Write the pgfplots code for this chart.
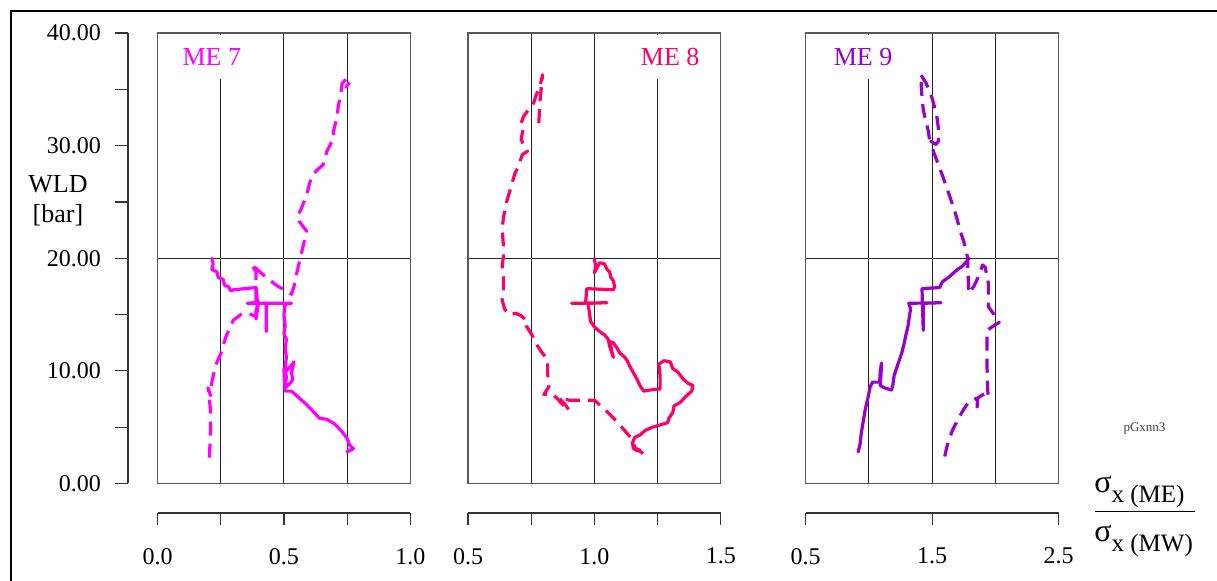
\documentclass[border=0pt]{standalone}
\usepackage{fontspec}
\setmainfont{Liberation Serif}
\usepackage{pgfplots}
\pgfplotsset{compat=1.18}
\definecolor{cA}{RGB}{255,0,255}
\definecolor{cB}{RGB}{255,0,102}
\definecolor{cC}{RGB}{153,0,204}
\pgfplotsset{
 panel/.style={scale only axis, width=126.4pt, height=225.25pt, ymin=0, ymax=40,
   ytick={20}, yticklabels={}, xticklabels={}, tick style={draw=none},
   grid=major, grid style={black!85,line width=0.5pt},
   axis line style={black!65,line width=0.6pt}, anchor=south west, clip=true},
 xax/.style={scale only axis, width=126.4pt, height=5pt, ymin=0, ymax=1,
   axis y line=none, axis x line=bottom, x axis line style={-},
   axis line style={black!80,line width=0.6pt}, tick align=outside,
   major tick length=6pt, tick style={black!80,line width=0.6pt}, anchor=south west,
   xticklabel style={font=\fontsize{12}{12}\selectfont, yshift=-8pt}},
 sl/.style={line width=1.6pt, line join=round, line cap=round},
 dl/.style={line width=1.6pt, dash pattern=on 7pt off 4pt, line join=round},
}
\begin{document}
\begin{tikzpicture}
\useasboundingbox (0pt,0pt) rectangle (608.5pt,-290.5pt);
\draw[line width=1.3pt] (5.5pt,-300pt) -- (5.5pt,-5.5pt) -- (620pt,-5.5pt);

% y axis
\begin{axis}[scale only axis, width=5pt, height=225.25pt, at={(64pt,-241.75pt)}, anchor=south west,
  xmin=0, xmax=1, ymin=0, ymax=40, axis x line=none, axis y line=left, y axis line style={-},
  axis line style={black!80,line width=0.6pt}, tick align=outside,
  major tick length=6.5pt, minor tick length=6.5pt, tick style={black!80,line width=0.6pt},
  ytick={0,10,20,30,40}, minor ytick={5,15,25,35},
  yticklabels={0.00,10.00,20.00,30.00,40.00},
  yticklabel style={font=\fontsize{12}{12}\selectfont, xshift=-3.5pt}]
\addplot[draw=none] coordinates {(0,0)};
\end{axis}

% panel ME 7
\begin{axis}[panel, at={(78.75pt,-241.75pt)}, xmin=0, xmax=1, xtick={0.25,0.5,0.75}]
\addplot[cA, dl] coordinates {
(0.205,2.3)(0.21,4.5)(0.21,6.5)(0.205,7.5)(0.2,8.5)(0.21,7.8)(0.215,9.0)(0.23,10.5)(0.25,11.5)
(0.27,13.0)(0.29,14.0)(0.30,14.5)(0.33,15.0)(0.36,15.1)(0.39,14.8)(0.39,16.5)(0.39,18.8)(0.37,19.5)
(0.42,18.5)(0.47,17.6)(0.53,16.8)(0.54,17.5)(0.55,18.6)(0.57,20.5)(0.59,22.4)(0.58,22.7)(0.56,23.3)
(0.555,23.9)(0.565,24.2)(0.59,25.6)(0.60,26.5)(0.61,27.3)(0.63,27.8)(0.655,28.3)(0.67,29.5)(0.70,30.8)
(0.695,31.2)(0.71,32.5)(0.715,33.5)(0.725,34.5)(0.73,35.5)(0.745,35.9)(0.745,35.2)(0.76,35.6)};
\addplot[cA, sl] coordinates {
(0.215,20.0)(0.22,19.5)(0.215,19.0)(0.235,18.8)(0.24,18.3)(0.26,18.1)(0.265,17.6)(0.28,17.5)
(0.29,17.1)(0.30,17.2)(0.39,17.4)(0.395,16.2)(0.39,14.6)(0.40,16.1)(0.355,16.0)(0.43,16.0)(0.43,13.5)
(0.43,16.0)(0.53,16.0)(0.505,15.9)(0.50,15.0)(0.505,14.0)(0.50,13.3)(0.51,12.8)(0.505,12.0)(0.51,11.2)
(0.505,10.5)(0.51,10.0)(0.53,10.5)(0.54,10.8)(0.53,9.8)(0.535,9.2)(0.52,8.8)(0.505,8.5)(0.51,9.5)
(0.50,10.2)(0.505,8.2)(0.53,8.2)(0.56,7.6)(0.59,7.0)(0.62,6.3)(0.64,5.8)(0.67,5.7)(0.70,5.3)
(0.73,4.6)(0.75,4.0)(0.76,3.4)(0.775,3.1)(0.75,2.8)(0.76,3.0)};
\node[fill=white, text=cA, font=\fontsize{13}{14}\selectfont, anchor=north, minimum height=22pt, inner xsep=3pt]
  at (rel axis cs:0.215,0.997) {ME 7};
\end{axis}
\begin{axis}[xax, at={(78.75pt,-256.5pt)}, xmin=0, xmax=1, xtick={0,0.25,0.5,0.75,1},
  xticklabels={0.0,,0.5,,1.0}]
\addplot[draw=none] coordinates {(0,0)};
\end{axis}

% panel ME 8
\begin{axis}[panel, at={(234pt,-241.75pt)}, xmin=0.5, xmax=1.5, xtick={0.75,1,1.25}]
\addplot[cB, dl] coordinates {
(0.78,32.0)(0.785,34.0)(0.795,36.3)(0.785,35.3)(0.77,34.5)(0.76,33.8)(0.74,33.2)(0.72,32.6)(0.71,32.0)
(0.72,31.6)(0.71,30.6)(0.72,30.0)(0.735,29.5)(0.715,29.2)(0.70,28.2)(0.685,27.5)(0.67,26.3)(0.655,25.2)
(0.64,23.6)(0.635,22.5)(0.64,21.2)(0.64,20.2)(0.635,19.2)(0.64,18.3)(0.64,17.2)(0.635,16.3)(0.645,15.5)
(0.66,15.0)(0.69,15.1)(0.71,14.9)(0.735,14.4)(0.73,14.0)(0.75,13.3)(0.77,12.4)(0.79,11.7)(0.815,11.0)
(0.815,9.8)(0.82,8.6)(0.80,7.9)(0.83,8.0)(0.855,7.5)(0.87,7.1)(0.90,6.5)(0.885,7.0)(0.86,7.6)(0.9,7.4)
(0.96,7.4)(1.0,7.4)(1.04,6.6)(1.08,5.7)(1.12,4.7)(1.15,3.9)(1.16,3.2)(1.19,2.7)(1.2,2.4)};
\addplot[cB, sl] coordinates {
(1.0,19.9)(1.005,19.3)(1.0,18.7)(1.02,19.6)(1.04,19.5)(1.05,19.0)(1.06,18.8)(1.065,18.3)(1.075,18.0)
(1.08,17.5)(1.075,17.2)(0.97,17.3)(0.965,16.0)(0.91,16.0)(1.05,16.05)(0.975,16.0)(0.98,15.2)(0.985,14.4)
(1.0,13.9)(1.02,13.5)(1.04,13.2)(1.055,12.8)(1.06,12.2)(1.075,11.2)(1.06,12.6)(1.075,12.5)(1.09,12.0)
(1.1,11.6)(1.12,11.2)(1.13,10.9)(1.14,10.4)(1.155,9.8)(1.17,9.2)(1.18,8.7)(1.195,8.2)(1.22,8.3)
(1.26,8.4)(1.26,9.5)(1.255,10.6)(1.275,10.9)(1.3,10.8)(1.31,10.2)(1.33,9.9)(1.35,9.3)(1.37,8.9)
(1.39,8.7)(1.385,8.2)(1.36,7.7)(1.34,7.2)(1.315,6.9)(1.31,6.3)(1.295,5.8)(1.29,5.4)(1.26,5.2)
(1.23,5.0)(1.2,4.7)(1.18,4.3)(1.16,4.1)(1.15,3.6)(1.155,3.1)(1.17,2.9)(1.18,3.0)};
\node[fill=white, text=cB, font=\fontsize{13}{14}\selectfont, anchor=north, minimum height=22pt, inner xsep=3pt]
  at (rel axis cs:0.80,0.997) {ME 8};
\end{axis}
\begin{axis}[xax, at={(234pt,-256.5pt)}, xmin=0.5, xmax=1.5, xtick={0.5,0.75,1,1.25,1.5},
  xticklabels={0.5,,1.0,,1.5}]
\addplot[draw=none] coordinates {(0.5,0)};
\end{axis}

% panel ME 9
\begin{axis}[panel, at={(402.85pt,-241.75pt)}, xmin=0.5, xmax=2.5, xtick={1,1.5,2}]
\addplot[cC, dl] coordinates {
(1.60,2.4)(1.62,3.4)(1.66,4.7)(1.70,5.6)(1.74,6.4)(1.78,7.1)(1.82,7.4)(1.86,7.6)(1.855,6.5)(1.86,7.6)
(1.92,8.0)(1.945,7.7)(1.94,8.3)(1.935,10.2)(1.935,12.2)(1.935,13.6)(2.0,14.1)(2.03,14.3)(1.99,15.0)
(1.945,15.7)(1.945,17.8)(1.92,19.2)(1.90,19.4)(1.88,18.8)(1.86,18.2)(1.83,17.5)(1.79,16.9)(1.785,18.5)
(1.78,20.1)(1.75,21.5)(1.72,22.5)(1.70,23.4)(1.67,24.5)(1.63,25.8)(1.58,27.4)(1.53,28.9)(1.51,29.5)
(1.49,30.4)(1.53,30.1)(1.55,30.4)(1.55,31.5)(1.54,32.4)(1.52,33.4)(1.49,34.6)(1.45,35.6)(1.41,36.3)
(1.415,35.2)(1.42,34.3)(1.43,33.2)(1.45,32.2)(1.47,31.3)(1.48,30.5)(1.49,30.0)};
\addplot[cC, sl] coordinates {
(0.915,2.8)(0.93,3.5)(0.94,4.5)(0.955,5.5)(0.97,6.5)(0.99,7.5)(1.0,8.0)(1.01,8.6)(1.03,9.0)(1.085,9.0)
(1.09,10.0)(1.10,10.7)(1.095,9.5)(1.09,8.7)(1.12,8.5)(1.18,8.3)(1.19,8.8)(1.2,9.6)(1.23,10.6)(1.26,11.6)
(1.28,12.5)(1.295,13.3)(1.31,14.0)(1.32,14.8)(1.33,15.5)(1.315,16.0)(1.57,16.05)(1.43,16.0)(1.43,13.6)
(1.42,17.3)(1.56,17.4)(1.58,17.9)(1.63,18.3)(1.66,18.6)(1.70,19.0)(1.74,19.3)(1.78,19.8)(1.79,20.0)};
\node[fill=white, text=cC, font=\fontsize{13}{14}\selectfont, anchor=north, minimum height=22pt, inner xsep=3pt]
  at (rel axis cs:0.227,0.997) {ME 9};
\end{axis}
\begin{axis}[xax, at={(402.85pt,-256.5pt)}, xmin=0.5, xmax=2.5, xtick={0.5,1.5,2.5},
  xticklabels={0.5,1.5,2.5}]
\addplot[draw=none] coordinates {(0.5,0)};
\end{axis}

% labels
\node[align=center, font=\fontsize{13}{15}\selectfont] at (29pt,-100.5pt) {WLD\\{[}bar{]}};
\node[anchor=base west, inner sep=0pt] at (547pt,-246.5pt)
  {{\fontsize{16}{16}\selectfont σ}\raisebox{-5pt}{\fontsize{12.5}{13}\selectfont x (ME)}};
\draw[line width=0.5pt] (547.5pt,-255.85pt) -- (597.5pt,-255.85pt);
\node[anchor=base west, inner sep=0pt] at (547pt,-270.85pt)
  {{\fontsize{16}{16}\selectfont σ}\raisebox{-5pt}{\fontsize{12.5}{13}\selectfont x (MW)}};
\node[text=black!75, font=\fontsize{6.5}{7}\selectfont] at (572.25pt,-214.5pt) {pGxnn3};
\end{tikzpicture}
\end{document}
